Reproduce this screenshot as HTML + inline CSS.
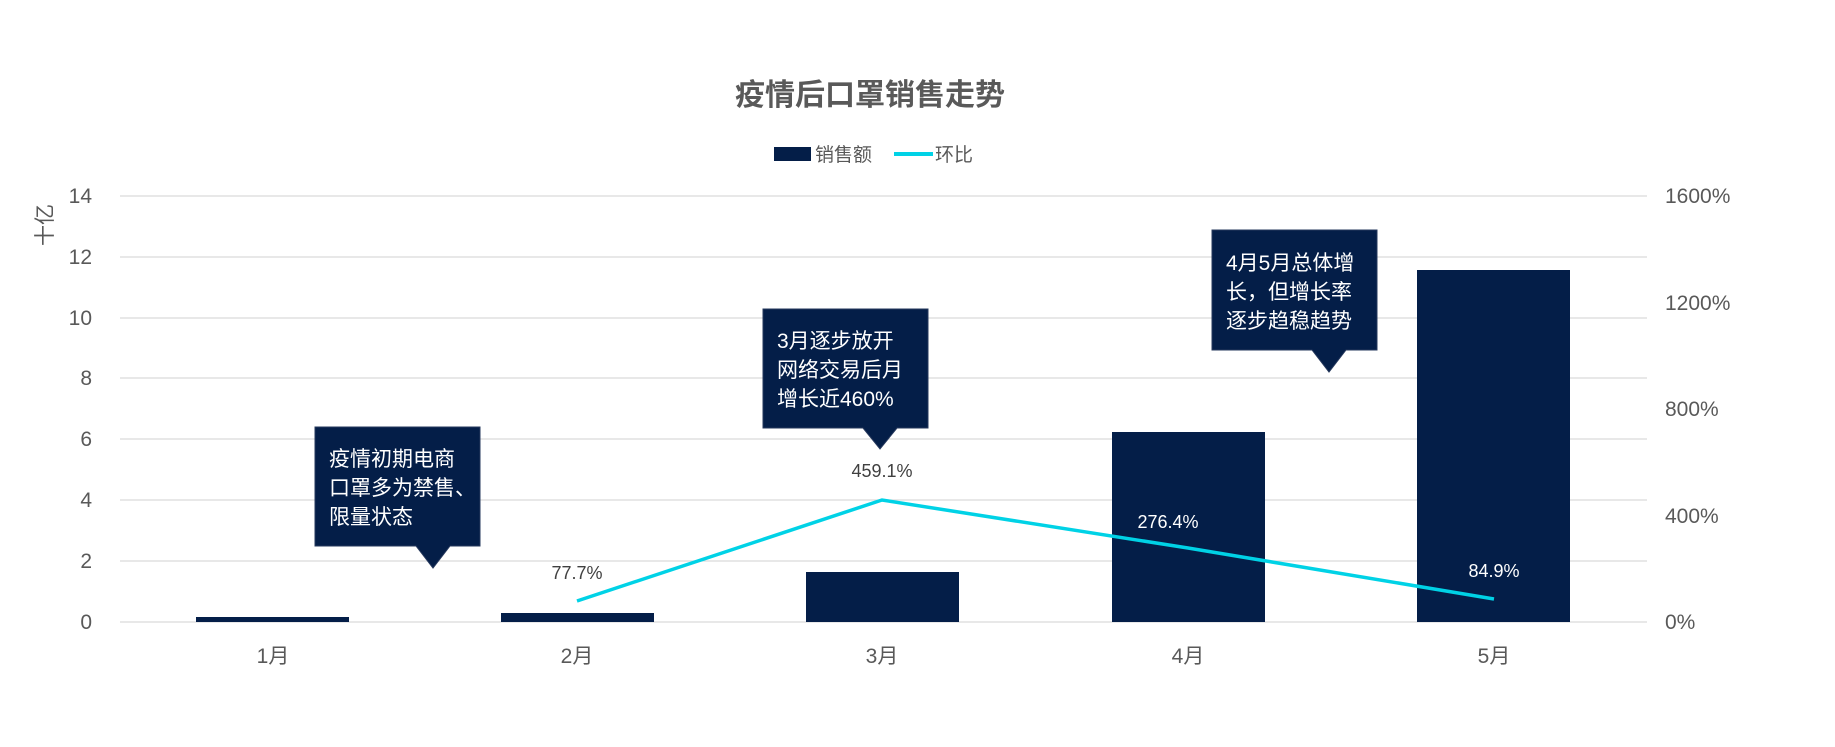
<!DOCTYPE html>
<html><head><meta charset="utf-8"><style>
body{margin:0;background:#fff;}
svg text{font-family:"Liberation Sans","Noto Sans CJK SC",sans-serif;}
</style></head><body>
<svg width="1835" height="742" xmlns="http://www.w3.org/2000/svg">
<rect width="1835" height="742" fill="#fff"/>
<text x="870" y="105" font-size="30" font-weight="bold" fill="#595959" text-anchor="middle">疫情后口罩销售走势</text>
<rect x="774" y="147" width="37" height="14" fill="#041E48"/>
<text x="815" y="161" font-size="19" fill="#595959">销售额</text>
<line x1="894" y1="154" x2="933" y2="154" stroke="#00D2E6" stroke-width="4"/>
<text x="935" y="161" font-size="19" fill="#595959">环比</text>
<g stroke="#D9D9D9" stroke-width="1.2">
<line x1="120" y1="196" x2="1647" y2="196"/><line x1="120" y1="257" x2="1647" y2="257"/>
<line x1="120" y1="318" x2="1647" y2="318"/><line x1="120" y1="378" x2="1647" y2="378"/>
<line x1="120" y1="439" x2="1647" y2="439"/><line x1="120" y1="500" x2="1647" y2="500"/>
<line x1="120" y1="561" x2="1647" y2="561"/><line x1="120" y1="622" x2="1647" y2="622"/>
</g>
<g font-size="21" fill="#595959" text-anchor="end">
<text x="92" y="203">14</text><text x="92" y="264">12</text><text x="92" y="325">10</text><text x="92" y="385">8</text>
<text x="92" y="446">6</text><text x="92" y="507">4</text><text x="92" y="568">2</text><text x="92" y="629">0</text>
</g>
<g font-size="21" fill="#595959">
<text x="1665" y="203">1600%</text><text x="1665" y="310">1200%</text><text x="1665" y="416">800%</text>
<text x="1665" y="523">400%</text><text x="1665" y="629">0%</text>
</g>
<text transform="translate(52,225) rotate(-90)" font-size="21" fill="#595959" text-anchor="middle">十亿</text>
<g fill="#041E48">
<rect x="196" y="617" width="153" height="5"/>
<rect x="501" y="613" width="153" height="9"/>
<rect x="806" y="572" width="153" height="50"/>
<rect x="1112" y="432" width="153" height="190"/>
<rect x="1417" y="270" width="153" height="352"/>
</g>
<polyline points="577,601 882,500 1188,548 1494,599" fill="none" stroke="#00D2E6" stroke-width="3.5"/>
<g font-size="18" text-anchor="middle">
<text x="577" y="579" fill="#404040">77.7%</text>
<text x="882" y="477" fill="#404040">459.1%</text>
<text x="1168" y="528" fill="#fff">276.4%</text>
<text x="1494" y="577" fill="#fff">84.9%</text>
</g>
<g fill="#041E48" stroke="#26385C" stroke-width="1">
<path d="M315,427 H480 V546 H450 L433,568 L416,546 H315 Z"/>
<path d="M763,309 H928 V428 H897 L880,449 L863,428 H763 Z"/>
<path d="M1212,230 H1377 V350 H1346 L1329,372 L1312,350 H1212 Z"/>
</g>
<g font-size="21" fill="#fff">
<text x="329" y="466">疫情初期电商</text><text x="329" y="495">口罩多为禁售、</text><text x="329" y="524">限量状态</text>
<text x="777" y="348">3月逐步放开</text><text x="777" y="377">网络交易后月</text><text x="777" y="406">增长近460%</text>
<text x="1226" y="270">4月5月总体增</text><text x="1226" y="299">长，但增长率</text><text x="1226" y="328">逐步趋稳趋势</text>
</g>
<g font-size="21" fill="#595959" text-anchor="middle">
<text x="273" y="663">1月</text><text x="577" y="663">2月</text><text x="882" y="663">3月</text>
<text x="1188" y="663">4月</text><text x="1494" y="663">5月</text>
</g>
</svg>
</body></html>
